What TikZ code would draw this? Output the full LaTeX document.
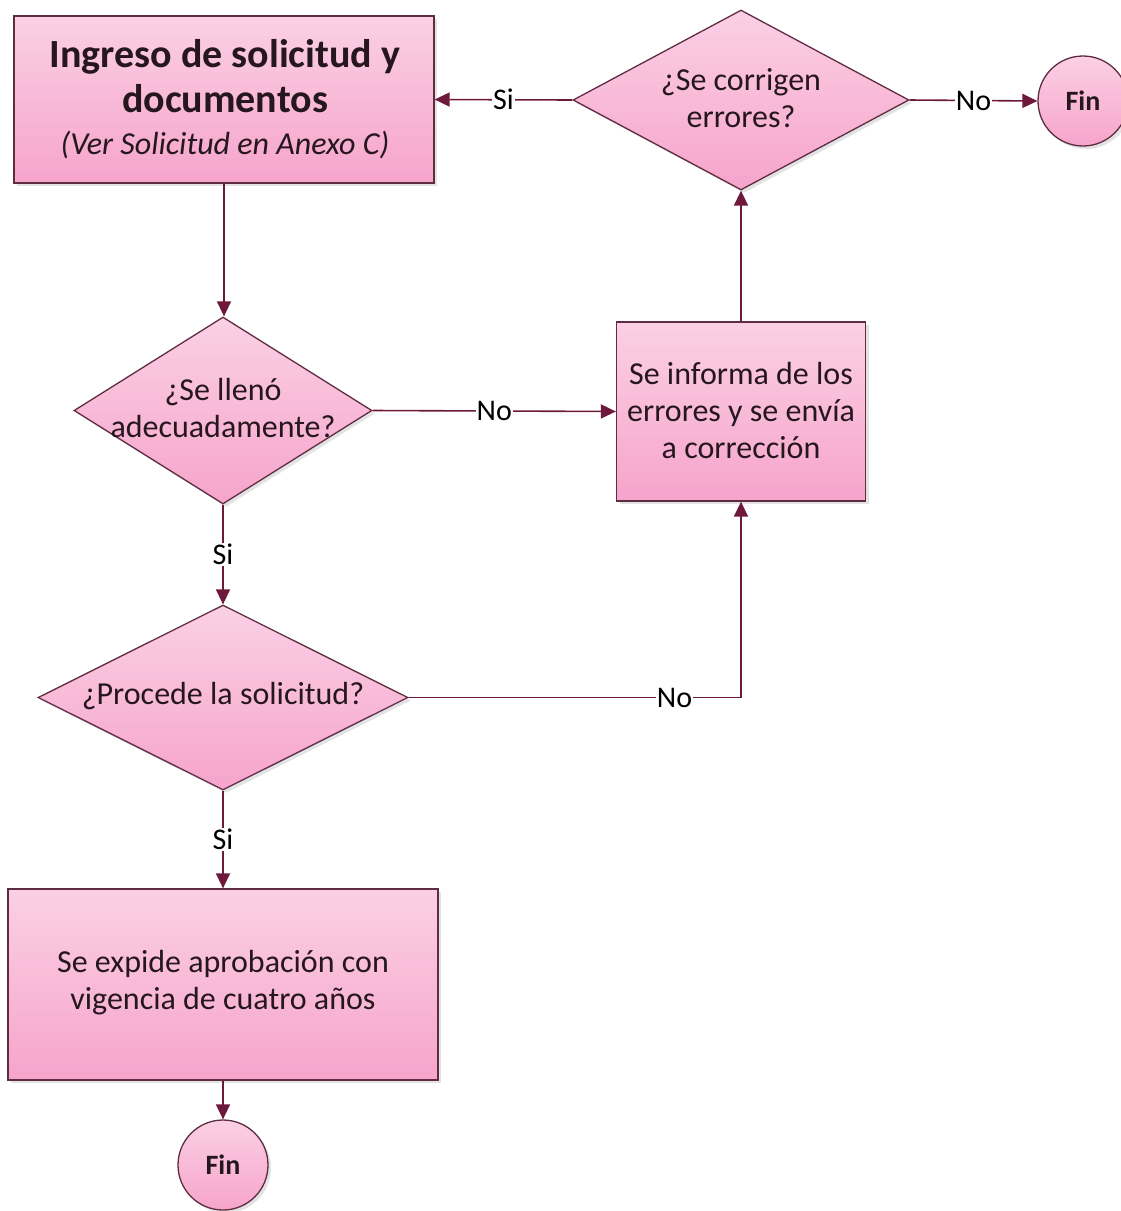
\documentclass[tikz,border=0pt]{standalone}
\usepackage{fontspec}
\setmainfont{Carlito}
\usetikzlibrary{shapes.geometric,arrows.meta,shadows}
\definecolor{pinktop}{RGB}{251,208,229}
\definecolor{pinkbot}{RGB}{246,164,203}
\definecolor{edgec}{RGB}{95,45,65}
\definecolor{linec}{RGB}{110,25,60}
\definecolor{txt}{RGB}{38,22,30}
\begin{document}
\begin{tikzpicture}[x=1pt,y=-1pt,
  shapebase/.style={draw=edgec, line width=1.3pt, top color=pinktop, bottom color=pinkbot,
    drop shadow={shadow xshift=3pt,shadow yshift=-3pt,opacity=0.22}, inner sep=0pt},
  procbox/.style={shapebase, rectangle},
  decision/.style={shapebase, diamond},
  endc/.style={shapebase, circle, minimum size=90pt, text=txt,
    font=\fontsize{28}{34}\selectfont\bfseries},
  txtnode/.style={align=center, text=txt, inner sep=0pt, font=\fontsize{32}{37}\selectfont},
  titlenode/.style={align=center, text=txt, inner sep=0pt, font=\fontsize{40}{45}\selectfont\bfseries},
  conn/.style={draw=linec, line width=1.6pt, -{Triangle[length=15pt,width=14pt]}},
  lbl/.style={fill=white, inner sep=1pt, text=black, font=\fontsize{30}{36}\selectfont}
]
\useasboundingbox[fill=white] (0,0) rectangle (1120,1211);

% shapes
\node[procbox, minimum width=420pt, minimum height=167pt] (b1) at (224,99.5) {};
\node[decision, minimum width=336pt, minimum height=180pt] (d1) at (741,100) {};
\node[endc] (fin1) at (1083,101) {Fin};
\node[decision, minimum width=298pt, minimum height=187pt] (d2) at (223,410.5) {};
\node[procbox, minimum width=249pt, minimum height=179pt] (b2) at (741,411.5) {};
\node[decision, minimum width=370pt, minimum height=185pt] (d3) at (223,697.5) {};
\node[procbox, minimum width=430pt, minimum height=191pt] (b4) at (223,984.5) {};
\node[endc] (fin2) at (223,1165) {Fin};

% texts
\node[titlenode] (t1) at (225,99) {Ingreso de solicitud y\\documentos\\[-3pt]
  {\fontsize{32}{37}\selectfont\mdseries\itshape (Ver Solicitud en Anexo C)}};
\node[txtnode] (t2) at (741,98) {¿Se corrigen\\errores?};
\node[txtnode] (t3) at (223,408) {¿Se llenó\\adecuadamente?};
\node[txtnode] (t4) at (741,410) {Se informa de los\\errores y se envía\\a corrección};
\node[txtnode] (t5) at (223,696) {¿Procede la solicitud?};
\node[txtnode] (t6) at (223,983) {Se expide aprobación con\\vigencia de cuatro años};

% connectors
\draw[conn] (b1.south) -- (b1.south |- d2.north);
\draw[conn] (d2.east) -- node[lbl] {No} (b2.west);
\draw[conn] (d2.south) -- node[lbl] {Si} (d3.north);
\draw[conn] (d3.east) -| node[lbl, pos=0.4] {No} (b2.south);
\draw[conn] (d3.south) -- node[lbl] {Si} (b4.north);
\draw[conn] (b4.south) -- (fin2.north);
\draw[conn] (b2.north) -- (d1.south);
\draw[conn] (d1.west) -- node[lbl] {Si} (b1.east);
\draw[conn] (d1.east) -- node[lbl] {No} (fin1.west);
\end{tikzpicture}
\end{document}
